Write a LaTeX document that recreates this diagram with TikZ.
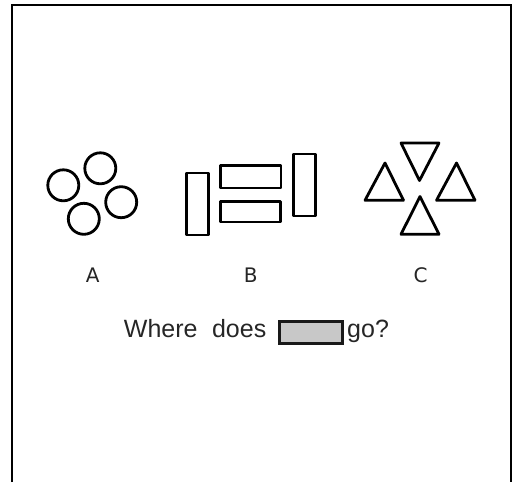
\documentclass[tikz,border=0pt]{standalone}
\usepackage{fontspec}
\setmainfont{Liberation Sans}
\newfontfamily\labelfont{DejaVu Sans}
\usepackage{tikz}
\usetikzlibrary{positioning}
\usepackage{xcolor}

\tikzset{
  shapeline/.style={black, line width=2.8pt, line join=round},
  letter/.style={anchor=base, inner sep=0pt, text=black!85, font=\labelfont\fontsize{20}{24}\selectfont},
  question/.style={inner sep=0pt, text=black!85, font=\fontsize{25}{30}\selectfont},
  slotbox/.style={draw=black!90, line width=3pt, fill=gray!43, minimum width=63.5pt, minimum height=21.5pt, inner sep=0pt}
}

\begin{document}
\begin{tikzpicture}[x=1pt, y=-1pt]
\useasboundingbox (0,0) rectangle (516,482);

% frame, open at the bottom
\draw[black, line width=2pt] (12,482) -- (12,5) -- (511,5) -- (511,482);

% (A) four circles
\begin{scope}[shapeline]{
\draw (63.3,185.3) circle [radius=15.5pt];
\draw (100.3,168.3) circle [radius=15.5pt];
\draw (121.2,202.2) circle [radius=15.5pt];
\draw (83.8,218.8) circle [radius=15.5pt];
} \end{scope}

% (B) four bars
\begin{scope}[shapeline]{
\draw (186.5,173) rectangle (208.5,235);
\draw (220.5,165.5) rectangle (281,188);
\draw (220.5,201.5) rectangle (280.5,222);
\draw (293.5,154) rectangle (315.5,216);
} \end{scope}

% (C) four triangles
\begin{scope}[shapeline]{
\draw (385,163) -- (403.5,200.3) -- (365,200.3) -- cycle;
\draw (401,143) -- (439,143) -- (419.5,180.5) -- cycle;
\draw (456.5,163) -- (475,200.3) -- (436.5,200.3) -- cycle;
\draw (420,196.5) -- (439,234.3) -- (401,234.3) -- cycle;
} \end{scope}

\node[letter] (labA) at (92.7,282.3) {A};
\node[letter] (labB) at (250.8,282.3) {B};
\node[letter] (labC) at (420.7,282.3) {C};

% question line
\node[slotbox] (slot) at (310.75,332.25) {};
\node[question, left=11pt of slot, anchor=base east, yshift=-5.5pt] (where) {Where\hspace{14.5pt}does};
\node[question, right=3pt of slot, anchor=base west, yshift=-5.5pt] (go) {go?};

\end{tikzpicture}
\end{document}
